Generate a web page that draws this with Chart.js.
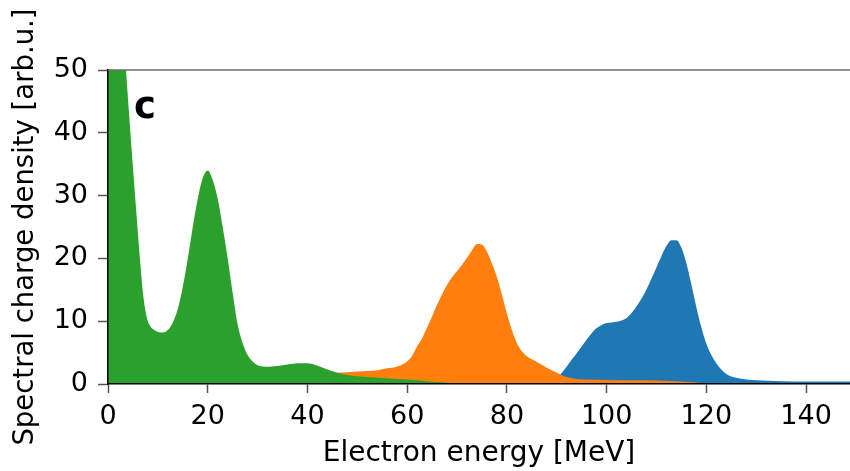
<!DOCTYPE html>
<html>
<head>
<meta charset="utf-8">
<script src="https://cdn.jsdelivr.net/npm/chart.js@4/dist/chart.umd.min.js"></script>
<style>
  html, body { margin: 0; padding: 0; background: #ffffff; }
  #wrap { width: 850px; height: 471px; }
</style>
</head>
<body>
<div id="wrap"><canvas id="spectrum" width="850" height="471"></canvas></div>
<script>
// Electron spectra: spectral charge density vs. electron energy for three shots
const greenEnergy = [0,1,2,3,4,5,6,6.5,7,7.5,8,8.5,9,10,11,12,13,14,15,16,17,18,19,20,21,22,23,24,25,26,27,28,29,30,31,32,34,36,38,40,42,44,46,48,50,52,55,58,60,62,64,66,68,70,72,74];
const greenCharge = [95,82,69,57,45.5,34.5,24,19,14.6,11.7,10.0,9.2,8.75,8.3,8.2,8.6,9.8,12,15.5,20,25,29.5,32.8,34,32.5,29.5,25,20,14.5,9.5,6.5,4.6,3.6,3.0,2.8,2.75,2.85,3.1,3.3,3.3,2.9,2.3,1.8,1.45,1.25,1.1,0.95,0.8,0.7,0.6,0.45,0.3,0.2,0.1,0.03,0];

const orangeEnergy = [20,30,40,46,50,54,56,58,60,61,62,63,64,65,66,67,68,69,70,71,72,73,74,75,76,77,78,79,80,81,82,83,84,86,88,90,91,92,94,96,100,105,110,115,118,120,122,124];
const orangeCharge = [0.8,1.2,1.5,1.8,2.0,2.2,2.5,2.8,3.6,4.5,6.0,7.3,9.0,10.8,12.6,14.3,15.8,17.0,18.0,19.0,20.1,21.3,22.3,22.2,21.0,19.2,17.0,14.2,11.2,8.6,6.5,5.2,4.4,3.5,2.6,1.8,1.4,1.1,0.8,0.7,0.65,0.6,0.55,0.4,0.25,0.12,0.05,0];

const blueEnergy = [80,85,88,90,91,92,93,94,95,96,97,98,99,100,101,102,103,104,105,106,107,108,109,110,111,112,113,114,115,116,117,118,119,120,121,122,123,124,125,127,130,135,140,145,150];
const blueCharge = [0,0.2,0.5,0.9,1.8,2.8,3.9,4.9,6.0,7.1,8.1,8.9,9.4,9.7,9.8,9.9,10.1,10.5,11.3,12.4,13.6,15.1,16.8,18.6,20.4,22.0,22.9,22.9,21.7,19.2,15.8,12.2,9.0,6.4,4.6,3.3,2.3,1.6,1.2,0.85,0.6,0.45,0.4,0.38,0.38];

const xTicks = [0,20,40,60,80,100,120,140];
const yTicks = [0,10,20,30,40,50];
const panelLabel = 'c';

const toPoints = (xs, ys) => xs.map((x, i) => ({ x: x, y: ys[i] }));

const FONT = '"DejaVu Sans", "Liberation Sans", sans-serif';

// gray frame line along the top of the plot area, plus the panel letter
const framePlugin = {
  id: 'frame',
  afterDraw(chart) {
    const { ctx, chartArea } = chart;
    ctx.save();
    ctx.strokeStyle = '#6e6e6e';
    ctx.lineWidth = 1.5;
    ctx.beginPath();
    ctx.moveTo(chartArea.left, chartArea.top);
    ctx.lineTo(chartArea.right, chartArea.top);
    ctx.stroke();
    ctx.fillStyle = '#000';
    ctx.font = 'bold 37px ' + FONT;
    ctx.textAlign = 'center';
    ctx.textBaseline = 'alphabetic';
    ctx.fillText(panelLabel, chartArea.left + 37, chartArea.top + 48);
    ctx.restore();
  }
};

const areaStyle = (color) => ({
  backgroundColor: color,
  borderColor: color,
  borderWidth: 0,
  pointRadius: 0,
  fill: 'origin',
  cubicInterpolationMode: 'monotone',
  clip: 0
});

new Chart(document.getElementById('spectrum'), {
  type: 'line',
  data: {
    datasets: [
      Object.assign({ label: 'shot 1', data: toPoints(greenEnergy, greenCharge) }, areaStyle('#2ca02c')),
      Object.assign({ label: 'shot 2', data: toPoints(orangeEnergy, orangeCharge) }, areaStyle('#ff7f0e')),
      Object.assign({ label: 'shot 3', data: toPoints(blueEnergy, blueCharge) }, areaStyle('#1f77b4'))
    ]
  },
  options: {
    responsive: false,
    animation: false,
    devicePixelRatio: 1,
    layout: { padding: { top: 70, left: 0, right: 0, bottom: 0 } },
    plugins: { legend: { display: false }, tooltip: { enabled: false } },
    scales: {
      x: {
        type: 'linear',
        min: 0,
        max: 148.8,
        afterFit(scale) { scale.height = 87; },
        afterBuildTicks(scale) { scale.ticks = xTicks.map(v => ({ value: v })); },
        ticks: {
          color: '#000',
          font: { family: FONT, size: 27 },
          padding: 8,
          maxRotation: 0,
          autoSkip: false,
          includeBounds: false
        },
        grid: { drawOnChartArea: false, drawTicks: true, tickLength: 9, tickColor: '#555', tickWidth: 1.5 },
        border: { display: true, color: '#000', width: 1.5, z: 1 },
        title: {
          display: true,
          text: 'Electron energy [MeV]',
          color: '#000',
          font: { family: FONT, size: 28 },
          padding: { top: 0, bottom: 0 }
        }
      },
      y: {
        type: 'linear',
        min: 0,
        max: 50,
        afterFit(scale) { scale.width = 108; },
        afterBuildTicks(scale) { scale.ticks = yTicks.map(v => ({ value: v })); },
        ticks: {
          color: '#000',
          font: { family: FONT, size: 27 },
          padding: 10
        },
        grid: { drawOnChartArea: false, drawTicks: true, tickLength: 10, tickColor: '#555', tickWidth: 1.5 },
        border: { display: true, color: '#000', width: 1.5, z: 1 },
        title: {
          display: true,
          text: 'Spectral charge density [arb.u.]',
          color: '#000',
          font: { family: FONT, size: 27.5 },
          padding: { top: 9, bottom: 0 }
        }
      }
    }
  },
  plugins: [framePlugin]
});
</script>
</body>
</html>
